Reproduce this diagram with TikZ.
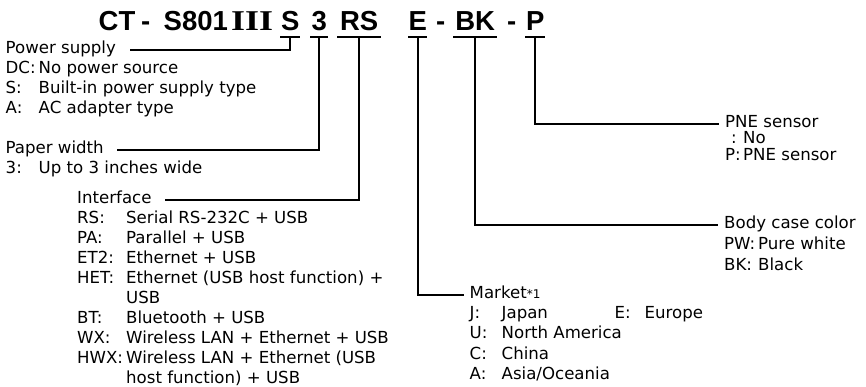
\documentclass[tikz,border=0pt]{standalone}
\usepackage{fontspec}
\setmainfont{DejaVu Sans}
\newfontfamily\codefont{Liberation Sans}
\newfontfamily\numfont{Liberation Serif}[FakeStretch=1.25]

\newcommand{\bodytext}{\fontsize{16.6}{20}\selectfont}
\newcommand{\titletext}{\codefont\bfseries\fontsize{27.5}{30}\selectfont}

\begin{document}
\begin{tikzpicture}[x=1pt, y=-1pt,
    code/.style={font=\titletext, inner sep=0pt, anchor=base west},
    head/.style={font=\bodytext, inner sep=0pt, anchor=base west},
    link/.style={line width=1.7pt}
]
    \useasboundingbox (0,0) rectangle (866,386);

    % Model name
    \node[code] (ct) at (98.5,30) {CT};
    \node[code] (d1) at (141,30) {-};
    \node[code] (model) at (163.5,30) {S801};
    \node[code, font=\numfont\bfseries\fontsize{28.7}{30}\selectfont] (gen) at (231,30) {III};
    \node[code, minimum width=20pt] (ps) at (280,30) {S};
    \node[code, minimum width=18pt] (pw) at (310,30) {3};
    \node[code, minimum width=44pt] (if) at (337,30) {RS};
    \node[code, minimum width=19pt] (mk) at (408,30) {E};
    \node[code] (d2) at (436,30) {-};
    \node[code, minimum width=44pt] (bc) at (453,30) {BK};
    \node[code] (d3) at (507,30) {-};
    \node[code, minimum width=20pt] (pn) at (525,30) {P};

    \foreach \part in {ps,pw,if,mk,bc,pn}
        \draw[link] ([yshift=-7pt]\part.base west) -- ([yshift=-7pt]\part.base east);

    % Power supply
    \node[head] (psl) at (5.5,53) {Power supply};
    \node[head] (psv) at (5.5,73) {\begin{tabular}[t]{@{}p{33pt}@{}l@{}}
        DC: & No power source\\
        S: & Built-in power supply type\\
        A: & AC adapter type
    \end{tabular}};
    \draw[link] ([yshift=-7pt]ps.base) |- ([xshift=14pt]psl.mid east);

    % Paper width
    \node[head] (pwl) at (5.5,153) {Paper width};
    \node[head] (pwv) at (5.5,173) {\begin{tabular}[t]{@{}p{33pt}@{}l@{}}
        3: & Up to 3 inches wide
    \end{tabular}};
    \draw[link] ([yshift=-7pt]pw.base) |- ([xshift=13pt]pwl.mid east);

    % Interface
    \node[head] (ifl) at (77,203) {Interface};
    \node[head] (ifv) at (77,223) {\begin{tabular}[t]{@{}p{49pt}@{}l@{}}
        RS: & Serial RS-232C + USB\\
        PA: & Parallel + USB\\
        ET2: & Ethernet + USB\\
        HET: & Ethernet (USB host function) +\\
         & USB\\
        BT: & Bluetooth + USB\\
        WX: & Wireless LAN + Ethernet + USB\\
        HWX: & Wireless LAN + Ethernet (USB\\
         & host function) + USB
    \end{tabular}};
    \draw[link] ([yshift=-7pt]if.base) |- ([xshift=13pt]ifl.mid east);

    % Market
    \node[head] (mkl) at (469.5,298) {Market{\fontsize{12}{14}\selectfont *1}};
    \node[head, font=\fontsize{16.6}{20.5}\selectfont] (mkv) at (469.5,318) {\begin{tabular}[t]{@{}p{32pt}@{}l@{}}
        J: & \makebox[113pt][l]{Japan}\makebox[30pt][l]{E:}Europe\\
        U: & North America\\
        C: & China\\
        A: & Asia/Oceania
    \end{tabular}};
    \draw[link] ([yshift=-7pt]mk.base) |- ([xshift=-6pt]mkl.mid west);

    % Body case color
    \node[head] (bcl) at (724,228) {Body case color};
    \node[head, font=\fontsize{16.6}{21}\selectfont] (bcv) at (724,249) {\begin{tabular}[t]{@{}p{34pt}@{}l@{}}
        PW: & Pure white\\
        BK: & Black
    \end{tabular}};
    \draw[link] ([yshift=-7pt]bc.base) |- ([xshift=-6pt]bcl.mid west);

    % PNE sensor
    \node[head] (pnl) at (725,127) {PNE sensor};
    \node[head, font=\fontsize{16.6}{16.5}\selectfont] (pnv) at (725,143.5) {\begin{tabular}[t]{@{}p{18pt}@{}l@{}}
        \hspace*{6pt}: & No\\
        P: & PNE sensor
    \end{tabular}};
    \draw[link] ([yshift=-7pt]pn.base) |- ([xshift=-6pt]pnl.mid west);
\end{tikzpicture}
\end{document}
